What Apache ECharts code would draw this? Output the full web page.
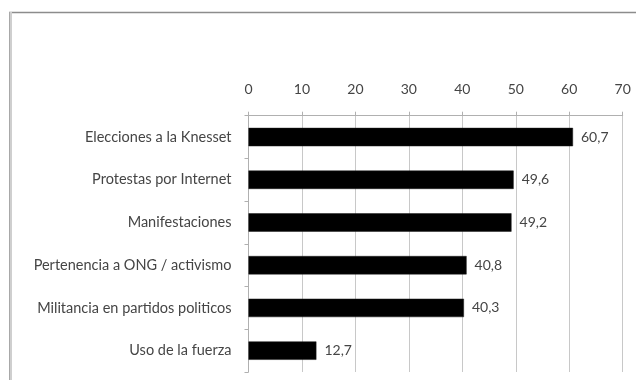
<!DOCTYPE html>
<html>
<head>
<meta charset="utf-8">
<style>
  html, body { margin: 0; padding: 0; background: #ffffff; }
  #chart { width: 636px; height: 380px; }
</style>
<script src="https://cdn.jsdelivr.net/npm/echarts@6/dist/echarts.min.js"></script>
</head>
<body>
<div id="chart"></div>
<script>
// Forms of political participation (%)
var categories = [
  'Elecciones a la Knesset',
  'Protestas por Internet',
  'Manifestaciones',
  'Pertenencia a ONG / activismo',
  'Militancia en partidos politicos',
  'Uso de la fuerza'
];
var values = [60.7, 49.6, 49.2, 40.8, 40.3, 12.7];
var axisMin = 0;
var axisMax = 70;
var axisStep = 10;

var chart = echarts.init(document.getElementById('chart'), null, { renderer: 'canvas' });

var textFont = 'Lato, "Open Sans", "DejaVu Sans", sans-serif';

chart.setOption({
  animation: false,
  backgroundColor: '#ffffff',
  graphic: [
    // outer frame: top edge and a soft left edge
    { type: 'line', shape: { x1: 9, y1: 12.5, x2: 640, y2: 12.5 },
      style: { stroke: '#8c8c8c', lineWidth: 1.5 } },
    { type: 'line', shape: { x1: 10.5, y1: 12, x2: 10.5, y2: 390 },
      style: { stroke: '#cfcfcf', lineWidth: 3 } },
    { type: 'line', shape: { x1: 9.5, y1: 12, x2: 9.5, y2: 390 },
      style: { stroke: '#a8a8a8', lineWidth: 1 } }
  ],
  grid: {
    left: 248.5,
    right: 13.3,
    top: 115.7,
    bottom: 8,
    containLabel: false
  },
  xAxis: {
    type: 'value',
    position: 'top',
    min: axisMin,
    max: axisMax,
    interval: axisStep,
    axisLine: { show: true, lineStyle: { color: '#b0b0b0', width: 1 } },
    axisTick: { show: true, length: 4, lineStyle: { color: '#b0b0b0' } },
    axisLabel: {
      margin: 19,
      color: '#454545',
      fontFamily: textFont,
      fontSize: 14
    },
    splitLine: { show: true, lineStyle: { color: '#c8c8c8', width: 1 } }
  },
  yAxis: {
    type: 'category',
    data: categories,
    inverse: true,
    axisLine: { show: true, lineStyle: { color: '#b0b0b0', width: 1 } },
    axisTick: { show: true, length: 4, alignWithLabel: false, lineStyle: { color: '#b0b0b0' } },
    axisLabel: {
      margin: 17,
      color: '#454545',
      fontFamily: textFont,
      fontSize: 14.5
    },
    splitLine: { show: false }
  },
  series: [{
    type: 'bar',
    data: values,
    barWidth: '43%',
    itemStyle: { color: '#000000', borderColor: '#1a1a1a', borderWidth: 0.5 },
    label: {
      show: true,
      position: 'right',
      distance: 8,
      color: '#454545',
      fontFamily: textFont,
      fontSize: 14,
      formatter: function (p) {
        return p.value.toFixed(1).replace('.', ',');
      }
    }
  }]
});
</script>
</body>
</html>
